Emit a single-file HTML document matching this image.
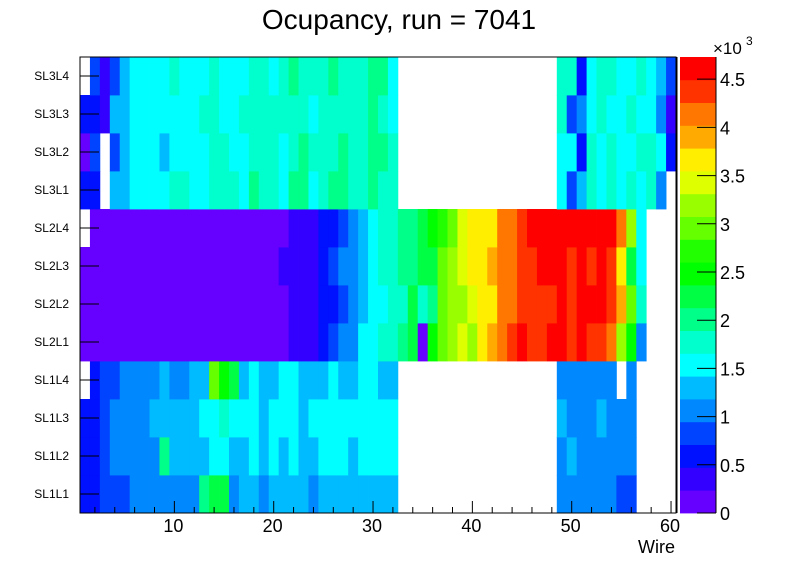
<!DOCTYPE html>
<html><head><meta charset="utf-8"><style>
body{margin:0;background:#fff;}
svg text{font-family:"Liberation Sans",sans-serif;}
</style></head><body>
<svg id="chart" width="796" height="572" xmlns="http://www.w3.org/2000/svg">
<rect width="796" height="572" fill="#fff"/>
<text x="399" y="29" font-size="28" text-anchor="middle">Ocupancy, run = 7041</text>
<g id="cells"></g>
<g id="axes"></g>
<g id="cbar"></g>
</svg>
<script>
const rowLabels = ["SL1L1","SL1L2","SL1L3","SL1L4","SL2L1","SL2L2","SL2L3","SL2L4","SL3L1","SL3L2","SL3L3","SL3L4"];
const xTicks = [10,20,30,40,50,60];
const zTicks = [0,0.5,1,1.5,2,2.5,3,3.5,4,4.5];
const zMax = 4730;
const SL1L1 = [590,590,830,830,830,1060,1060,1060,1060,1060,1060,1060,2010,2250,2250,1060,1300,1300,1060,1300,1300,1300,1300,1060,1300,1300,1300,1300,1300,1300,1300,1300,0,0,0,0,0,0,0,0,0,0,0,0,0,0,0,0,1060,1060,1060,1060,1060,1060,830,830,0,0,0,0];
const SL1L2 = [590,590,830,1060,1060,1060,1060,1060,2010,1300,1300,1300,1300,1540,1540,1300,1300,1540,1300,1540,1300,1540,1300,1300,1540,1540,1540,1300,1540,1540,1540,1540,0,0,0,0,0,0,0,0,0,0,0,0,0,0,0,0,1060,1300,1060,1060,1060,1060,1060,1060,0,0,0,0];
const SL1L3 = [590,590,830,1060,1060,1060,1060,1300,1300,1300,1300,1300,1540,1540,1770,1540,1540,1540,1300,1540,1540,1540,1300,1540,1540,1540,1540,1540,1540,1540,1540,1540,0,0,0,0,0,0,0,0,0,0,0,0,0,0,0,0,1300,1060,1060,1060,1300,1060,1060,1060,0,0,0,0];
const SL1L4 = [0,590,830,830,1060,1060,1060,1060,1300,1060,1060,1300,1300,2960,2480,2250,1300,1540,1300,1300,1540,1540,1300,1300,1300,1540,1300,1300,1540,1540,1300,1300,0,0,0,0,0,0,0,0,0,0,0,0,0,0,0,0,1060,1060,1060,1060,1060,1060,0,1060,0,0,0,0];
const SL2L1 = [120,120,120,120,120,120,120,120,120,120,120,120,120,120,120,120,120,120,120,120,120,350,350,350,590,830,1060,1060,1540,1540,1770,1770,2010,2250,120,2480,2960,3190,3430,3190,3670,3900,4140,4380,4610,4380,4380,4610,4610,4380,4610,4380,4380,4140,3190,2480,1060,0,0,0];
const SL2L2 = [120,120,120,120,120,120,120,120,120,120,120,120,120,120,120,120,120,120,120,120,120,350,350,350,590,590,830,1060,1300,1540,1540,1770,1770,2250,1770,2010,2960,3190,3190,3430,3670,3670,4140,4140,4380,4380,4380,4380,4610,4380,4610,4610,4610,4380,3900,2960,1770,0,0,0];
const SL2L3 = [120,120,120,120,120,120,120,120,120,120,120,120,120,120,120,120,120,120,120,120,350,350,350,350,590,830,1060,1060,1300,1540,1770,1770,2010,2010,2250,2250,2960,3190,3430,3670,3670,3900,4140,4140,4380,4380,4610,4610,4610,4380,4610,4380,4610,4380,3670,2250,1540,0,0,0];
const SL2L4 = [0,120,120,120,120,120,120,120,120,120,120,120,120,120,120,120,120,120,120,120,120,350,350,350,590,590,830,1060,1300,1540,1770,1770,2010,2010,2250,2480,2720,2960,3430,3670,3670,3670,4140,4140,4380,4610,4610,4610,4610,4610,4610,4610,4610,4610,4140,3190,1540,0,0,0];
const SL3L1 = [590,590,0,1300,1300,1540,1540,1540,1540,1770,1770,1540,1540,1770,1770,1770,1540,2010,1770,1770,1540,2010,2010,1540,1770,2010,2010,1770,1770,2010,1770,1770,0,0,0,0,0,0,0,0,0,0,0,0,0,0,0,0,1540,830,1300,1770,1540,1770,1540,1770,1540,1770,1060,0];
const SL3L2 = [120,830,0,830,1300,1540,1540,1540,1300,1540,1540,1540,1540,1770,1770,1540,1540,1770,1770,1770,1540,1770,2010,1770,1770,1770,2010,1770,1770,2010,2010,1770,0,0,0,0,0,0,0,0,0,0,0,0,0,0,0,0,1540,1540,590,1770,1540,1770,1540,1540,1770,1770,1540,590];
const SL3L3 = [590,590,350,1300,1300,1540,1540,1540,1540,1540,1540,1540,1770,1770,1540,1540,1770,1770,1770,1770,1770,1770,1770,1540,1770,1770,1770,1770,1770,2010,1770,1540,0,0,0,0,0,0,0,0,0,0,0,0,0,0,0,0,1770,830,1060,1540,1770,1540,1540,1770,1540,1540,1060,350];
const SL3L4 = [0,830,350,830,1300,1540,1540,1540,1540,1770,1540,1540,1540,1770,1540,1540,1540,1770,1770,1540,1770,2010,1770,1770,1770,2010,1770,1770,1770,2010,2010,1540,0,0,0,0,0,0,0,0,0,0,0,0,0,0,0,0,1770,1770,590,1540,1770,1770,1540,1540,1770,1540,1300,830];
const rows = [SL1L1,SL1L2,SL1L3,SL1L4,SL2L1,SL2L2,SL2L3,SL2L4,SL3L1,SL3L2,SL3L3,SL3L4];

const palette = ["#6600ff","#3300ff","#0011ff","#0044ff","#0088ff","#00bbff","#00ffff","#00ffcc","#00ff88","#00ff44","#00ff00","#22ff00","#66ff00","#99ff00","#ddff00","#ffee00","#ffaa00","#ff7700","#ff3300","#ff0000"];
const L=80,R=676,T=57,B=513;
const xMin=0.5,xMax=60.5;
const xs=v=>L+(v-xMin)/(xMax-xMin)*(R-L);
const ys=i=>B-(i)/rows.length*(B-T);
const zy=v=>B-v/zMax*(B-T);
const color=v=>palette[Math.min(19,Math.floor(v/zMax*20))];
const NS="http://www.w3.org/2000/svg";
function mk(tag,attrs,parent){const e=document.createElementNS(NS,tag);for(const k in attrs)e.setAttribute(k,attrs[k]);parent.appendChild(e);return e;}
const cells=document.getElementById('cells');
rows.forEach((row,ri)=>{row.forEach((v,ci)=>{if(v<=0)return;const w=ci+1;
 const x0=xs(w-0.5),x1=xs(w+0.5);
 const r=mk('rect',{x:x0.toFixed(2),y:ys(ri+1).toFixed(2),width:(x1-x0+0.4).toFixed(2),height:(ys(ri)-ys(ri+1)+0.4).toFixed(2),fill:color(v)},cells);
 
 
});});
const ax=document.getElementById('axes');
const fr=mk('rect',{x:L,y:T,width:R-L,height:B-T,fill:'none',stroke:'#000','stroke-width':1},ax);


const rf=mk('line',{x1:R+0.5,x2:R+0.5,y1:T,y2:B,stroke:'#000','stroke-width':2},ax);


rowLabels.forEach((lab,i)=>{const yc=(ys(i)+ys(i+1))/2;
 const t=mk('line',{x1:L,x2:L+19,y1:yc,y2:yc,stroke:'#000','stroke-width':1},ax);
 
 
 const tx=mk('text',{x:69,y:yc+4,'font-size':12,'text-anchor':'end'},ax);tx.textContent=lab;
 
 
});
for(let w=2;w<=60;w+=2){const x=xs(w);const major=w%10===0;
 const t=mk('line',{x1:x,x2:x,y1:B,y2:B-(major?12:6),stroke:'#000','stroke-width':1},ax);
 
 }
xTicks.forEach(v=>{const t=mk('text',{x:xs(v)-1,y:532,'font-size':18,'text-anchor':'middle'},ax);t.textContent=v;
 
 });
const xt=mk('text',{x:675,y:553,'font-size':18,'text-anchor':'end'},ax);xt.textContent='Wire';


const cb=document.getElementById('cbar');
const CL=680,CR=716;
palette.forEach((c,i)=>{const v0=i*zMax/20,v1=(i+1)*zMax/20;
 const r=mk('rect',{x:CL,y:zy(v1).toFixed(2),width:CR-CL,height:(zy(v0)-zy(v1)+0.4).toFixed(2),fill:c},cb);
 
 });
const al=mk('line',{x1:CR,x2:CR,y1:T,y2:B,stroke:'#000','stroke-width':1},cb);


zTicks.forEach(v=>{const y=zy(v*1000);
 const t=mk('line',{x1:CR-19,x2:CR,y1:y,y2:y,stroke:'#000','stroke-width':1},cb);
 
 
 const tx=mk('text',{x:720,y:y+7,'font-size':18},cb);tx.textContent=v;
 
 });
const ex=mk('text',{x:713,y:54,'font-size':17},cb);ex.textContent='×10';


const e3=mk('text',{x:746,y:45,'font-size':12},cb);e3.textContent='3';


</script>
</body></html>
